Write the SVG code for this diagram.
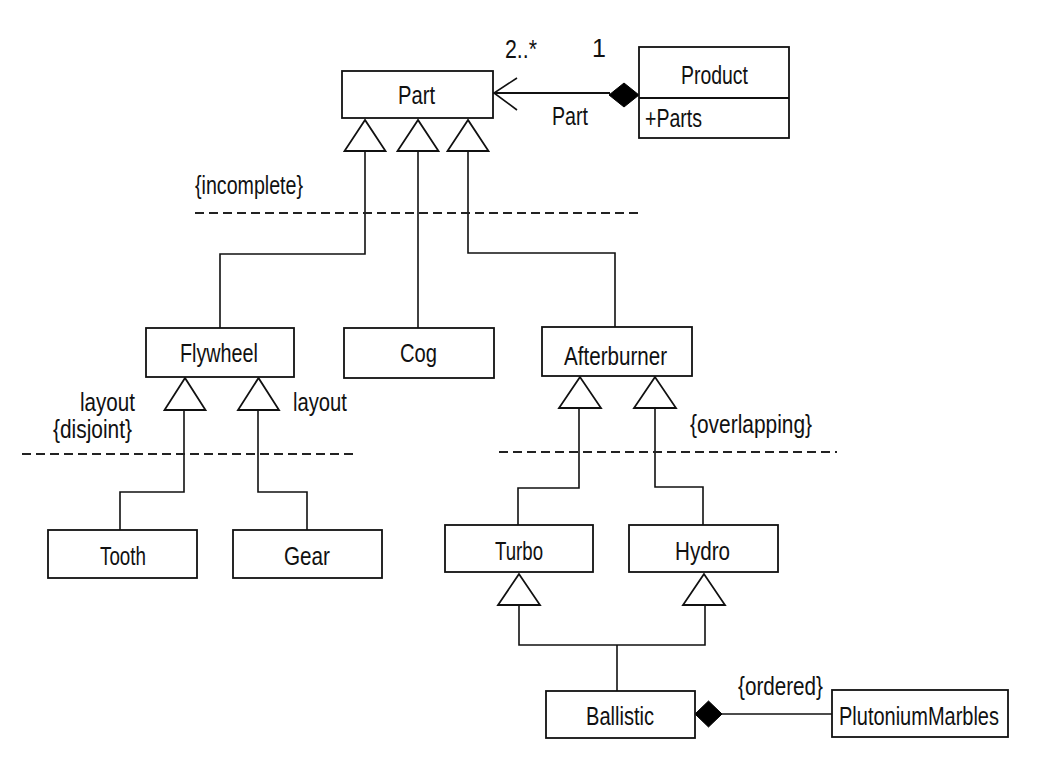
<svg xmlns="http://www.w3.org/2000/svg" width="1037" height="778" viewBox="0 0 1037 778">
<style>
.box{fill:#fff;stroke:#111;stroke-width:1.8}
.ln{fill:none;stroke:#111;stroke-width:1.6}
.tri{fill:#fff;stroke:#111;stroke-width:1.8;stroke-linejoin:miter}
.dash{fill:none;stroke:#222;stroke-width:2.2;stroke-dasharray:9 5}
.dia{fill:#000;stroke:#000;stroke-width:1}
text{font-family:"Liberation Sans",Arial,sans-serif;font-size:25px;fill:#111}
</style>
<rect width="1037" height="778" fill="#fff"/>
<g id="connectors">
  <line class="ln" x1="493" y1="93" x2="610" y2="93" style="stroke-width:2"/>
  <polyline class="ln" points="517,78 494,93 517,110"/>
  <polygon class="dia" points="609,95 624,83 639,95 624,107"/>
  <path class="ln" d="M365,151 V254 H220 V328"/>
  <path class="ln" d="M418,151 V328"/>
  <path class="ln" d="M468,151 V253 H615 V327"/>
  <polygon class="tri" points="365,120 344.5,151 385.5,151"/>
  <polygon class="tri" points="418,120 397.5,151 438.5,151"/>
  <polygon class="tri" points="468,120 447.5,151 488.5,151"/>
  <path class="ln" d="M184,410 V492 H120 V530"/>
  <path class="ln" d="M258,410 V492 H307 V530"/>
  <polygon class="tri" points="185,378 164.5,410 205.5,410"/>
  <polygon class="tri" points="258.5,378 238,410 279,410"/>
  <path class="ln" d="M579,408 V488 H518 V525"/>
  <path class="ln" d="M655,408 V487 H703 V525"/>
  <polygon class="tri" points="580,377 559,408 601,408"/>
  <polygon class="tri" points="655,377 634,408 676,408"/>
  <path class="ln" d="M519,605 V645 H705 V605"/>
  <path class="ln" d="M617,645 V691"/>
  <polygon class="tri" points="519,574 498,605 540,605"/>
  <polygon class="tri" points="704,574 683,605 725,605"/>
  <line class="ln" x1="721" y1="714" x2="832" y2="714"/>
  <polygon class="dia" points="695,714 708.5,701 722,714 708.5,727"/>
  <line class="dash" x1="195" y1="213" x2="643" y2="213"/>
  <line class="dash" x1="22" y1="454" x2="358" y2="454"/>
  <line class="dash" x1="499" y1="452" x2="837" y2="452"/>
</g>
<g id="labels">
  <text x="505" y="58" textLength="32" lengthAdjust="spacingAndGlyphs">2..*</text>
  <text x="592" y="57">1</text>
  <text x="552" y="125" textLength="36" lengthAdjust="spacingAndGlyphs">Part</text>
  <text x="195" y="194" textLength="108" lengthAdjust="spacingAndGlyphs">{incomplete}</text>
  <text x="80" y="411" textLength="55" lengthAdjust="spacingAndGlyphs">layout</text>
  <text x="53" y="438" textLength="79" lengthAdjust="spacingAndGlyphs">{disjoint}</text>
  <text x="293" y="411" textLength="54" lengthAdjust="spacingAndGlyphs">layout</text>
  <text x="690" y="433" textLength="122" lengthAdjust="spacingAndGlyphs">{overlapping}</text>
  <text x="738" y="695" textLength="85" lengthAdjust="spacingAndGlyphs">{ordered}</text>
</g>
<g id="Part"><rect class="box" x="342" y="71" width="151" height="47"/><text x="398" y="104" textLength="37" lengthAdjust="spacingAndGlyphs">Part</text></g>
<g id="Product"><rect class="box" x="639" y="47" width="150" height="91"/><line class="ln" x1="639" y1="98" x2="789" y2="98" style="stroke-width:2"/><text x="681" y="84" textLength="67" lengthAdjust="spacingAndGlyphs">Product</text><text x="645" y="127" textLength="57" lengthAdjust="spacingAndGlyphs">+Parts</text></g>
<g id="Flywheel"><rect class="box" x="146" y="328" width="148" height="49"/><text x="180" y="362" textLength="78" lengthAdjust="spacingAndGlyphs">Flywheel</text></g>
<g id="Cog"><rect class="box" x="344" y="328" width="150" height="50"/><text x="400" y="362" textLength="37" lengthAdjust="spacingAndGlyphs">Cog</text></g>
<g id="Afterburner"><rect class="box" x="542" y="327" width="150" height="49"/><text x="564" y="365" textLength="103" lengthAdjust="spacingAndGlyphs">Afterburner</text></g>
<g id="Tooth"><rect class="box" x="48" y="530" width="149" height="48"/><text x="100" y="565" textLength="46" lengthAdjust="spacingAndGlyphs">Tooth</text></g>
<g id="Gear"><rect class="box" x="233" y="530" width="149" height="48"/><text x="284" y="565" textLength="46" lengthAdjust="spacingAndGlyphs">Gear</text></g>
<g id="Turbo"><rect class="box" x="445" y="525" width="148" height="47"/><text x="495" y="560" textLength="48" lengthAdjust="spacingAndGlyphs">Turbo</text></g>
<g id="Hydro"><rect class="box" x="629" y="525" width="149" height="47"/><text x="675" y="560" textLength="55" lengthAdjust="spacingAndGlyphs">Hydro</text></g>
<g id="Ballistic"><rect class="box" x="546" y="691" width="149" height="47"/><text x="586" y="725" textLength="68" lengthAdjust="spacingAndGlyphs">Ballistic</text></g>
<g id="PlutoniumMarbles"><rect class="box" x="832" y="690" width="176" height="47"/><text transform="translate(839,725) scale(0.8,1)" x="0" y="0">PlutoniumMarbles</text></g>
</svg>
